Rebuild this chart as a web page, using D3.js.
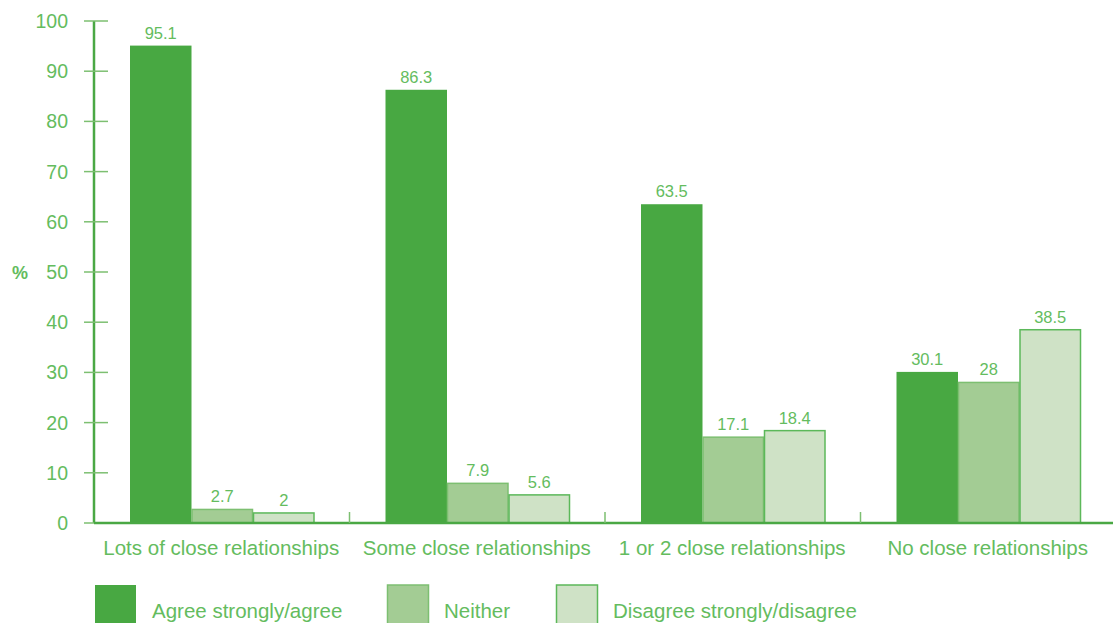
<!DOCTYPE html>
<html><head><meta charset="utf-8">
<script src="https://cdn.jsdelivr.net/npm/d3@7"></script>
<style>
body{margin:0;background:#fff;}
text{font-family:"Liberation Sans",Arial,sans-serif;}
</style></head>
<body><svg id="c" width="1113" height="623"></svg>
<script>
const categories = ["Lots of close relationships","Some close relationships","1 or 2 close relationships","No close relationships"];
const seriesNames = ["Agree strongly/agree","Neither","Disagree strongly/disagree"];
const agree = [95.1, 86.3, 63.5, 30.1];
const neither = [2.7, 7.9, 17.1, 28];
const disagree = [2, 5.6, 18.4, 38.5];
const yTicks = [0,10,20,30,40,50,60,70,80,90,100];

const fills = ["#48a842","#a3cc94","#cfe2c6"];
const strokes = ["#48a842","#7dbf71","#5cb85a"];
const txt = "#64bc5e";
const axisCol = "#4aa844";

const svg = d3.select("#c");
const x0 = 94, x1 = 1113, yB = 523, yT = 21;
const x = d3.scaleBand().domain(categories).range([x0, x0 + 255.5*4]).paddingInner(0).paddingOuter(0);
const y = d3.scaleLinear().domain([0,100]).range([yB, yT]);
const sub = d3.scaleBand().domain(seriesNames).range([36, 36+184.5]);

const data = [agree, neither, disagree];

// bars
categories.forEach((c,i)=>{
  data.forEach((arr,s)=>{
    const v = arr[i];
    const bx = x(c)+sub(seriesNames[s]);
    svg.append("rect").attr("x",bx+ (s>0?0.5:0)).attr("y",y(v)).attr("width",sub.bandwidth()-(s>0?1:0)).attr("height",yB-y(v))
      .attr("fill",fills[s]).attr("stroke",s>0?strokes[s]:"none").attr("stroke-width",1.5);
    svg.append("text").attr("x",bx+sub.bandwidth()/2).attr("y",y(v)-7).attr("text-anchor","middle")
      .attr("font-size",16.5).attr("fill",txt).text(v);
  });
});

// y axis
svg.append("line").attr("x1",x0).attr("x2",x0).attr("y1",yT).attr("y2",yB).attr("stroke",axisCol).attr("stroke-width",2.5);
yTicks.forEach(t=>{
  svg.append("line").attr("x1",x0-10).attr("x2",x0+14).attr("y1",y(t)).attr("y2",y(t)).attr("stroke","#7dbf71").attr("stroke-width",1.5);
  svg.append("text").attr("x",68).attr("y",y(t)+7).attr("text-anchor","end").attr("font-size",19.5).attr("fill",txt).text(t);
});
svg.append("text").attr("x",20).attr("y",279).attr("text-anchor","middle").attr("font-size",18).attr("font-weight","bold").attr("fill",txt).text("%");

// x axis
svg.append("line").attr("x1",x0).attr("x2",x1).attr("y1",yB).attr("y2",yB).attr("stroke",axisCol).attr("stroke-width",2.5);
categories.forEach((c,i)=>{
  if(i>0) svg.append("line").attr("x1",x(c)).attr("x2",x(c)).attr("y1",yB).attr("y2",yB-11).attr("stroke","#7dbf71").attr("stroke-width",1.5);
  svg.append("text").attr("x",x(c)+sub(seriesNames[1])+sub.bandwidth()/2 - 1).attr("y",555).attr("text-anchor","middle")
    .attr("font-size",20.5).attr("fill",txt).text(c);
});

// legend
const legX = [95,387,556];
seriesNames.forEach((n,s)=>{
  svg.append("rect").attr("x",legX[s]+(s>0?0.5:0)).attr("y",585).attr("width",41).attr("height",45)
    .attr("fill",fills[s]).attr("stroke",s>0?strokes[s]:"none").attr("stroke-width",1.5);
  svg.append("text").attr("x",legX[s]+57).attr("y",618).attr("font-size",20.5).attr("fill",txt).text(n);
});
</script></body></html>
